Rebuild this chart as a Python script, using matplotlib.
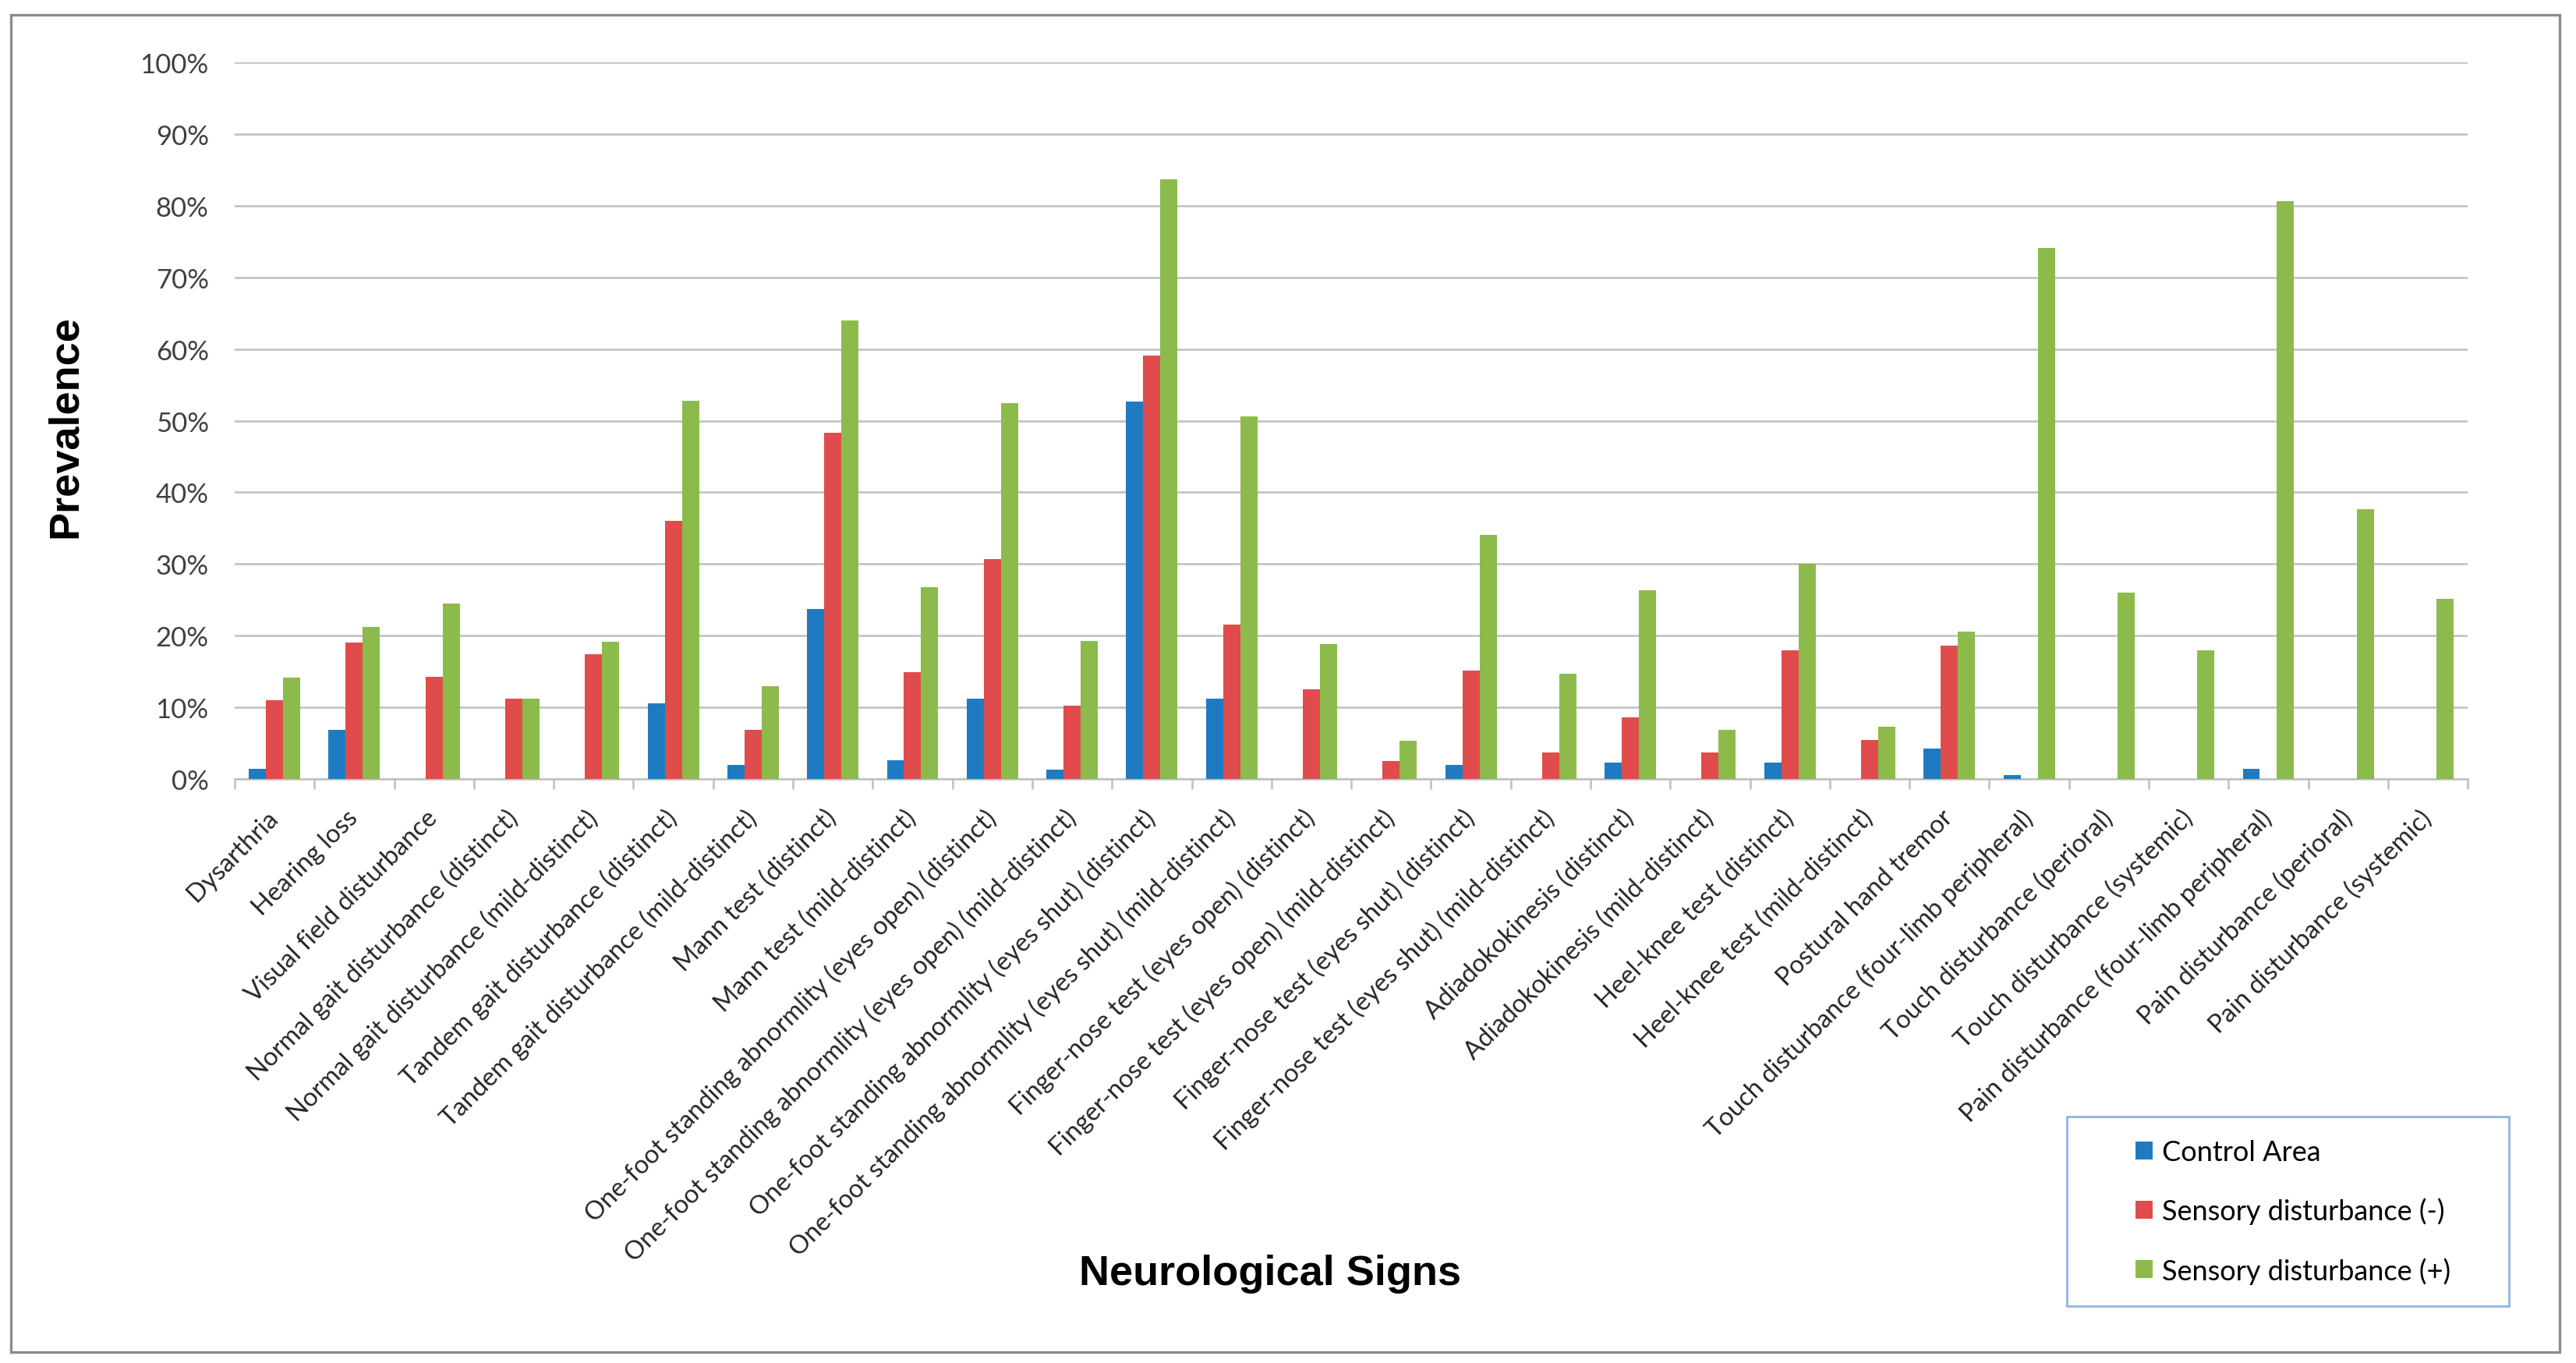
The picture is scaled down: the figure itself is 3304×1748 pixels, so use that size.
import numpy as np
import matplotlib
matplotlib.use("Agg")
import matplotlib.pyplot as plt
from matplotlib.patches import Rectangle

# categories and prevalence (%)
signs = [
    "Dysarthria",
    "Hearing loss",
    "Visual field disturbance",
    "Normal gait disturbance (distinct)",
    "Normal gait disturbance (mild-distinct)",
    "Tandem gait disturbance (distinct)",
    "Tandem gait disturbance (mild-distinct)",
    "Mann test (distinct)",
    "Mann test (mild-distinct)",
    "One-foot standing abnormlity (eyes open) (distinct)",
    "One-foot standing abnormlity (eyes open) (mild-distinct)",
    "One-foot standing abnormlity (eyes shut) (distinct)",
    "One-foot standing abnormlity (eyes shut) (mild-distinct)",
    "Finger-nose test (eyes open) (distinct)",
    "Finger-nose test (eyes open) (mild-distinct)",
    "Finger-nose test (eyes shut) (distinct)",
    "Finger-nose test (eyes shut) (mild-distinct)",
    "Adiadokokinesis (distinct)",
    "Adiadokokinesis (mild-distinct)",
    "Heel-knee test (distinct)",
    "Heel-knee test (mild-distinct)",
    "Postural hand tremor",
    "Touch disturbance (four-limb peripheral)",
    "Touch disturbance (perioral)",
    "Touch disturbance (systemic)",
    "Pain disturbance (four-limb peripheral)",
    "Pain disturbance (perioral)",
    "Pain disturbance (systemic)",
]

control = [1.4, 6.9, 0, 0, 0, 10.6, 2.0, 23.7, 2.6, 11.2, 1.3, 52.7, 11.2, 0,
           0, 2.0, 0, 2.3, 0, 2.3, 0, 4.3, 0.6, 0, 0, 1.4, 0, 0]
sensory_neg = [11.0, 19.0, 14.3, 11.2, 17.4, 36.0, 6.9, 48.3, 14.9, 30.7, 10.2, 59.1, 21.5, 12.5,
               2.5, 15.1, 3.7, 8.6, 3.7, 18.0, 5.5, 18.6, 0, 0, 0, 0, 0, 0]
sensory_pos = [14.1, 21.2, 24.5, 11.2, 19.2, 52.8, 13.0, 64.0, 26.8, 52.5, 19.3, 83.7, 50.6, 18.8,
               5.3, 34.1, 14.7, 26.3, 6.9, 30.0, 7.3, 20.6, 74.1, 26.0, 18.0, 80.6, 37.7, 25.1]

series_names = ["Control Area", "Sensory disturbance (-)", "Sensory disturbance (+)"]
colors = ["#1f7bc1", "#e04c4c", "#8cbb4c"]

fig = plt.figure(figsize=(16.52, 8.745), dpi=200)
ax = fig.add_axes([0.0911, 0.4282, 0.8669, 0.5255])

x = np.arange(len(signs))
w = 0.215
bars = []
for i, vals in enumerate([control, sensory_neg, sensory_pos]):
    b = ax.bar(x + (i - 1) * w, np.array(vals) / 100, width=w, color=colors[i],
               label=series_names[i], zorder=3)
    bars.append(b)

ax.set_xlim(-0.5, len(signs) - 0.5)
ax.set_ylim(0, 1.0)
ax.set_yticks(np.arange(0, 1.01, 0.1))
ax.set_yticklabels([f"{int(round(v * 100))}%" for v in np.arange(0, 1.01, 0.1)],
                   fontsize=12.5, color="#404040", family="Lato")
ax.yaxis.grid(True, color="#bfbfbf", linewidth=0.9, zorder=0)
ax.tick_params(axis="y", length=0, pad=12)

ax.set_xticks(x)
ax.set_xticklabels(signs, rotation=45, ha="right", va="center", rotation_mode="anchor",
                   fontsize=11.8, color="#262626", family="Lato")
ax.tick_params(axis="x", length=0, pad=16)
ax.set_xticks(np.arange(-0.5, len(signs), 1), minor=True)
ax.tick_params(axis="x", which="minor", length=4.5, width=0.9, color="#bfbfbf", direction="out")

for s in ["top", "right", "left"]:
    ax.spines[s].set_visible(False)
ax.spines["bottom"].set_color("#bfbfbf")
ax.spines["bottom"].set_linewidth(0.9)

fig.text(0.0254, 0.687, "Prevalence", rotation=90, ha="center", va="center",
         fontsize=19.5, fontweight="bold", family="Liberation Sans")
fig.text(0.493, 0.066, "Neurological Signs", ha="center", va="center",
         fontsize=19.5, fontweight="bold", family="Liberation Sans")

# legend box
fig.patches.append(Rectangle((0.8024, 0.0418), 0.1716, 0.1389, transform=fig.transFigure,
                             fill=False, edgecolor="#8fb4e0", linewidth=1.0))
fig.legend(handles=bars, labels=series_names, loc="center left",
           bbox_to_anchor=(0.8235, 0.111), frameon=False,
           prop={"family": "Lato", "size": 13}, handlelength=0.6, handleheight=0.6,
           handletextpad=0.35, labelspacing=1.15, borderpad=0)

# outer frame
fig.patches.append(Rectangle((0.0042, 0.008), 0.9894, 0.9806, transform=fig.transFigure,
                             fill=False, edgecolor="#8c8c8c", linewidth=1.2))

fig.savefig("out.png", dpi=200)
